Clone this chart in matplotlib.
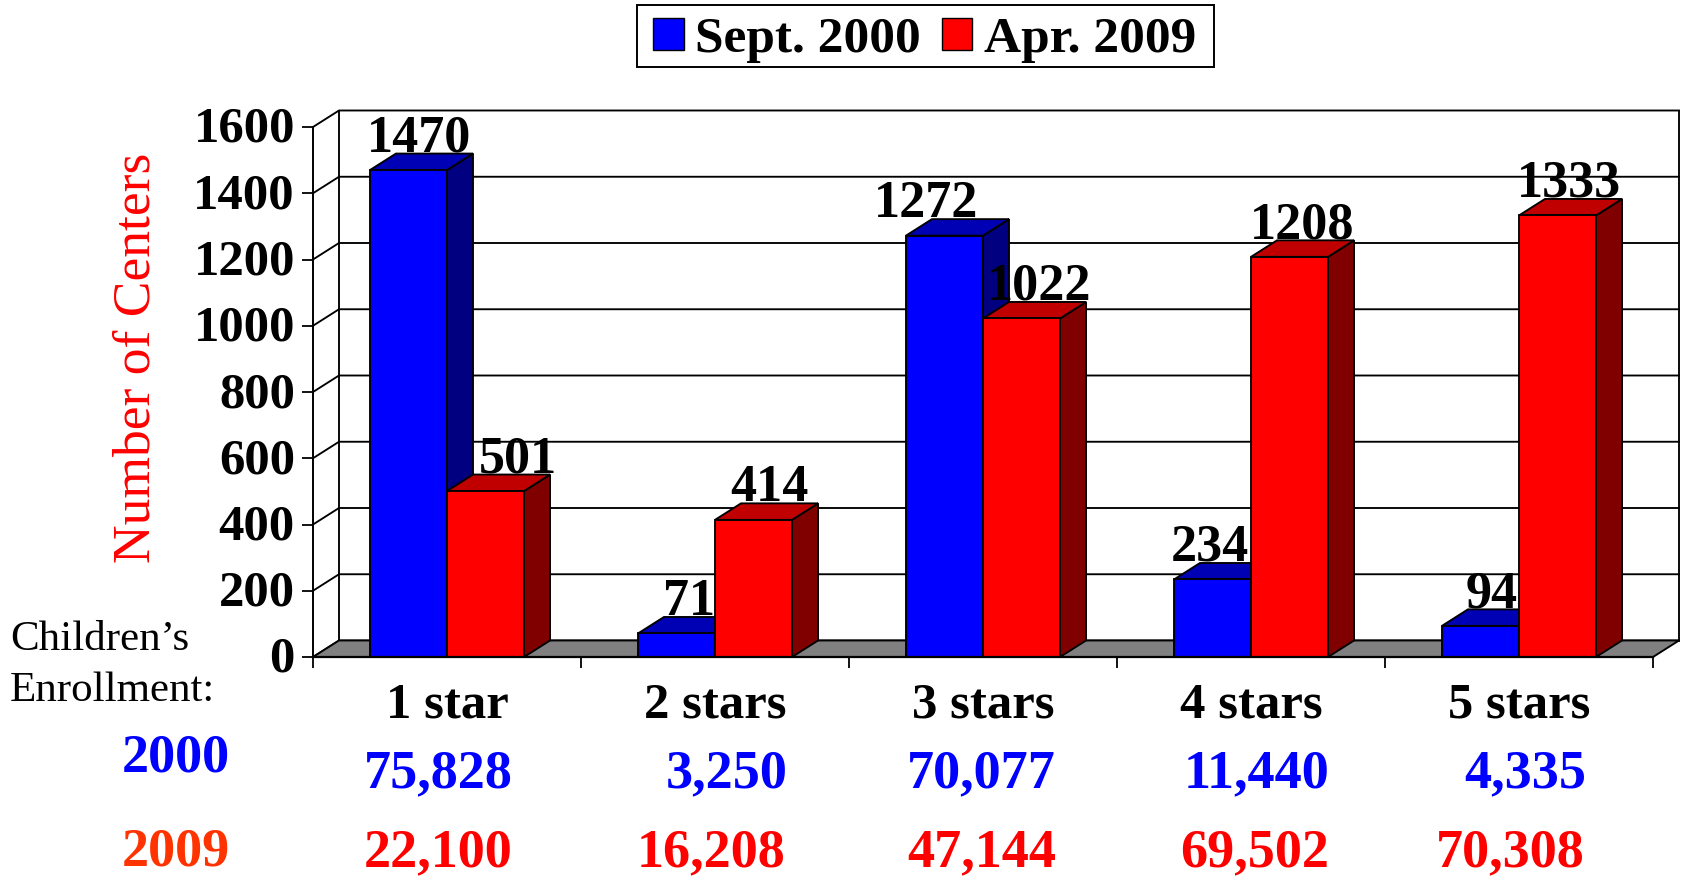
import matplotlib
matplotlib.use('Agg')
import matplotlib.pyplot as plt
from matplotlib.patches import Patch, Polygon, Rectangle
from matplotlib.transforms import Affine2D, IdentityTransform

categories = ['1 star', '2 stars', '3 stars', '4 stars', '5 stars']
centers_2000 = [1470, 71, 1272, 234, 94]
centers_2009 = [501, 414, 1022, 1208, 1333]
enroll_2000 = [75828, 3250, 70077, 11440, 4335]
enroll_2009 = [22100, 16208, 47144, 69502, 70308]
y_ticks = [0, 200, 400, 600, 800, 1000, 1200, 1400, 1600]

# the value labels were placed by hand in the original, pixels from the bar centre
nudge_2000 = [11, 13, -18, -3, 11]
nudge_2009 = [32, 16, 18, 13, 11]

# right edges of the enrollment numbers, in pixels
right_2000 = [513, 788, 1056, 1329, 1586]
right_2009 = [513, 785, 1056, 1329, 1585]

W, H = 1687, 876
DX, DY = 26, 16.5
BAR_W = 0.2875

plt.rcParams['font.family'] = ['Liberation Serif', 'DejaVu Serif']

fig = plt.figure(figsize=(W / 100, H / 100), dpi=100)
ax = fig.add_axes([313 / W, 1 - 657 / H, 1340 / W, 530 / H])
ax.set_xlim(0, 5)
ax.set_ylim(0, 1600)
ax.patch.set_visible(False)


def to_px(x, y, deep=False):
    px, py = ax.transData.transform((x, y))
    if deep:
        return px + DX, py + DY
    return px, py


def poly(points, color, z, lw=1.35):
    ax.add_patch(Polygon(points, closed=True, facecolor=color, edgecolor='black',
                         linewidth=lw, transform=IdentityTransform(),
                         clip_on=False, zorder=z))


def line(points, lw=1.35, z=1):
    xs = [p[0] for p in points]
    ys = [p[1] for p in points]
    ax.plot(xs, ys, color='black', lw=lw, transform=IdentityTransform(),
            clip_on=False, zorder=z, scalex=False, scaley=False)


def bar3d(left, value, nudge, front, top, side, z):
    right = left + BAR_W
    poly([to_px(right, 0), to_px(right, value), to_px(right, value, True),
          to_px(right, 0, True)], side, z)
    poly([to_px(left, value), to_px(right, value), to_px(right, value, True),
          to_px(left, value, True)], top, z)
    ax.bar(left, value, BAR_W, align='edge', color=front, edgecolor='black',
           linewidth=1.35, zorder=z + 0.1)
    ax.annotate(str(value), (left + BAR_W / 2, value), xytext=(nudge * 0.72, 13.5),
                textcoords='offset points', ha='center', va='baseline',
                fontsize=37.5, fontweight='bold', zorder=30)


# back wall with gridlines
for t in y_ticks:
    line([to_px(0, t), to_px(0, t, True), to_px(5, t, True)])
line([to_px(0, 0, True), to_px(0, 1600, True)])
line([to_px(5, 0, True), to_px(5, 1600, True)])

# floor
poly([to_px(0, 0), to_px(5, 0), to_px(5, 0, True), to_px(0, 0, True)], '#808080', 1.5)

for i in range(5):
    mid = i + 0.5
    bar3d(mid - BAR_W, centers_2000[i], nudge_2000[i], '#0000ff', '#0000b4', '#000080', 3 + 2 * i)
    bar3d(mid, centers_2009[i], nudge_2009[i], '#ff0000', '#c00000', '#800000', 4 + 2 * i)

ax.spines['top'].set_visible(False)
ax.spines['right'].set_visible(False)
ax.spines['left'].set_linewidth(1.4)
ax.spines['bottom'].set_linewidth(1.6)
ax.spines['bottom'].set_zorder(25)

ax.set_yticks(y_ticks)
ax.tick_params(axis='y', length=8, width=1.3, pad=5, labelsize=36.5)
for lab in ax.get_yticklabels():
    lab.set_fontweight('bold')
    lab.set_transform(lab.get_transform() + Affine2D().translate(0, 2.5))

ax.set_xticks(range(6))
ax.set_xticklabels([])
ax.set_xticks([i + 0.5 for i in range(5)], categories, minor=True)
ax.tick_params(axis='x', which='major', length=8, width=1.3)
ax.tick_params(axis='x', which='minor', length=0, pad=18, labelsize=36.5)
for lab in ax.get_xticklabels(minor=True):
    lab.set_fontweight('bold')

ax.set_ylabel('Number of Centers', color='#ff0000', fontsize=38.5, va='center')
ax.yaxis.set_label_coords(-0.132, 0.564)

# legend frame drawn on its own, it is wider and flatter than the legend padding allows
fig.add_artist(Rectangle((637 / W, 1 - 67 / H), 577 / W, 62 / H, facecolor='white',
                         edgecolor='black', linewidth=1.4, transform=fig.transFigure))
handles = [Patch(facecolor='#0000ff', edgecolor='black', label='Sept. 2000'),
           Patch(facecolor='#ff0000', edgecolor='black', label='Apr. 2009')]
fig.legend(handles=handles, loc='center', bbox_to_anchor=(924.5 / W, 1 - 40 / H),
           ncol=2, prop={'size': 37, 'weight': 'bold'}, frameon=False,
           handlelength=0.6, handleheight=0.6,
           handletextpad=0.22, columnspacing=0.4, borderpad=0.25, borderaxespad=0)

# enrollment table under the axis
fig.text(10 / W, 1 - 650 / H, 'Children\u2019s', fontsize=31, va='baseline')
fig.text(10 / W, 1 - 701 / H, 'Enrollment:', fontsize=31, va='baseline')
fig.text(230 / W, 1 - 772 / H, '2000', color='#0000ff', fontsize=39,
         fontweight='bold', ha='right', va='baseline')
fig.text(230 / W, 1 - 866 / H, '2009', color='#ff3300', fontsize=39,
         fontweight='bold', ha='right', va='baseline')
for i in range(5):
    fig.text(right_2000[i] / W, 1 - 787 / H, f'{enroll_2000[i]:,}', color='#0000ff',
             fontsize=39, fontweight='bold', ha='right', va='baseline')
    fig.text(right_2009[i] / W, 1 - 866 / H, f'{enroll_2009[i]:,}', color='#ff0000',
             fontsize=39, fontweight='bold', ha='right', va='baseline')

fig.savefig('out.png', dpi=100)
